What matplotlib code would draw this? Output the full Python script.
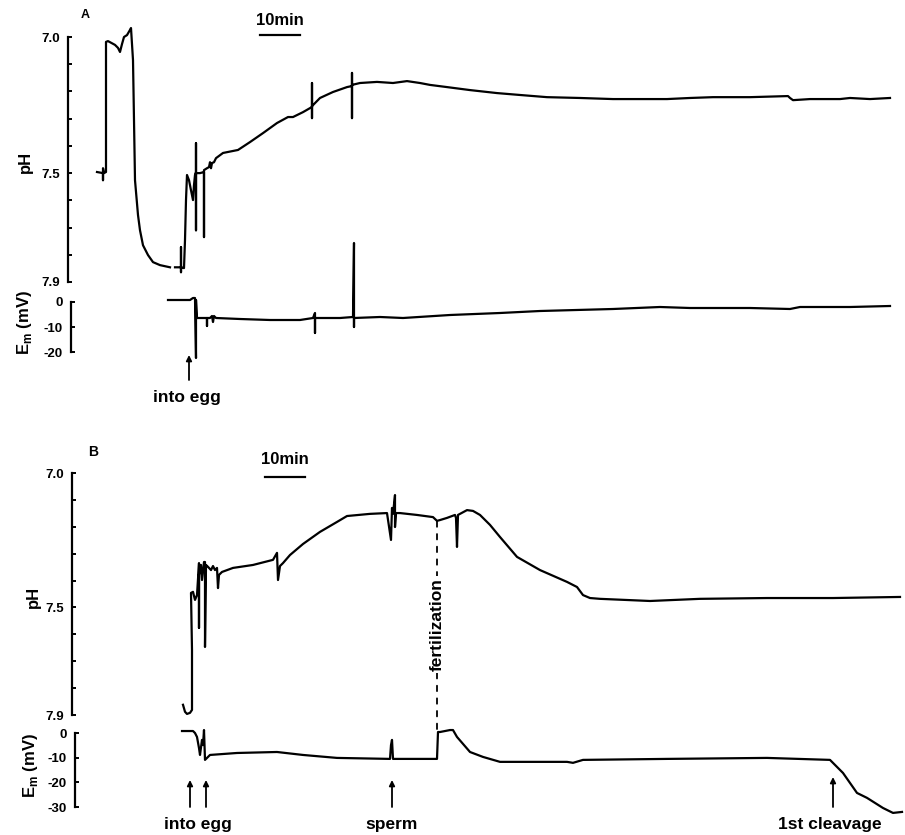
import numpy as np
import matplotlib
matplotlib.use("Agg")
import matplotlib.pyplot as plt
from matplotlib.patches import ConnectionPatch

plt.rcParams['font.family'] = ['Liberation Sans', 'DejaVu Sans']
plt.rcParams['font.weight'] = 'bold'
plt.rcParams['axes.unicode_minus'] = False
plt.rcParams['mathtext.fontset'] = 'custom'
plt.rcParams['mathtext.rm'] = 'Liberation Sans:bold'
plt.rcParams['mathtext.bf'] = 'Liberation Sans:bold'

# ------------------------------------------------------------
# Dati (tempo in min, pH, Em in mV)
# ------------------------------------------------------------

# Pannello A - pH intracellulare
a_ph_t = [7.25, 8.75, 8.75, 8.75, 9.0, 9.5, 9.5, 10.0, 11.75, 12.5, 13.0, 13.5, 14.0,
          14.75, 15.5, 15.75, 16.25, 16.5, 16.75, 17.5, 18.0, 18.75, 20.0, 21.25, 23.0,
          25.5, np.nan,
          26.75, 28.25, 28.25, 28.25, 28.25, 29.0, 29.25, 29.5, 29.75, 30.25, 30.75, 31.25,
          31.5, 31.75, 32.0, 32.0, 32.0, 32.0, 33.0, 34.0, 34.0, 34.0, 34.75, 35.25, 35.5,
          35.75, 36.0, 36.5, 37.0, 38.75, 42.5, 45.5, 48.75, 52.25, 55.0, 56.25, 58.75,
          61.0, 61.0, 61.0, 61.0, 63.0, 66.25, 69.75, 71.0, 71.0, 71.0, 71.0, 73.0, 77.25,
          81.25, 84.75, 88.0, 90.5, 94.75, 100.5, 107.25, 113.0, 119.75, 128.0, 136.25,
          143.0, 149.75, 155.5, 161.25, 170.5, 180.0, 180.5, 181.25, 185.5, 193.0, 195.5,
          200.5, 205.5]
a_ph_v = [7.496, 7.500, 7.526, 7.482, 7.500, 7.496, 7.018, 7.015, 7.029, 7.040, 7.055,
          7.026, 7.000, 6.993, 6.974, 6.967, 7.085, 7.305, 7.526, 7.654, 7.710, 7.765,
          7.801, 7.827, 7.838, 7.846, np.nan,
          7.846, 7.846, 7.772, 7.864, 7.846, 7.849, 7.746, 7.599, 7.507, 7.526, 7.563,
          7.599, 7.544, 7.507, 7.496, 7.390, 7.710, 7.500, 7.500, 7.496, 7.735, 7.489,
          7.482, 7.478, 7.460, 7.482, 7.463, 7.460, 7.445, 7.426, 7.415, 7.386, 7.353,
          7.316, 7.294, 7.294, 7.276, 7.257, 7.169, 7.298, 7.254, 7.224, 7.202, 7.184,
          7.180, 7.132, 7.298, 7.176, 7.169, 7.165, 7.169, 7.162, 7.169, 7.176, 7.184,
          7.195, 7.206, 7.213, 7.221, 7.224, 7.228, 7.228, 7.228, 7.224, 7.221, 7.221,
          7.217, 7.224, 7.232, 7.228, 7.228, 7.224, 7.228, 7.224]

# Pannello A - potenziale di membrana
a_em_t = [25.0, 30.5, 31.25, 31.75, 32.0, 32.0, 32.25, 34.25, 34.75, 34.75, 34.75, 35.5,
          36.0, 36.25, 36.5, 37.0, 43.0, 50.5, 58.0, 61.25, 61.75, 61.75, 61.75, 68.0,
          71.25, 71.5, 71.5, 71.5, 78.0, 83.75, 95.5, 108.0, 118.0, 136.25, 148.0,
          155.5, 170.5, 180.5, 183.0, 195.5, 205.5]
a_em_v = [0.8, 0.8, 1.6, 1.6, -22.4, 0.8, -6.4, -6.4, -6.4, -9.6, -6.4, -6.4, -5.6, -8.0,
          -5.6, -6.4, -6.8, -7.2, -7.2, -6.4, -4.4, -12.4, -6.4, -6.4, -6.0, 23.6, -10.0,
          -6.4, -6.0, -6.4, -5.2, -4.4, -3.6, -2.8, -2.0, -2.4, -2.4, -2.8, -2.0, -2.0, -1.6]

# Pannello B - pH intracellulare
b_ph_t = [27.75, 28.25, 28.75, 29.5, 30.0, 30.0, 29.75, 30.25, 30.75, 31.25, 31.75, 31.75,
          31.75, 32.25, 32.5, 33.0, 33.25, 33.25, 33.5, 34.0, 34.75, 35.25, 35.75, 36.25,
          36.5, 36.75, 37.5, 40.25, 45.25, 50.25, 51.25, 51.5, 52.0, 52.75, 54.5, 57.75,
          62.0, 66.25, 68.75, 74.5, 78.75, 79.75, 80.0, 80.25, 80.75, 80.75, 81.0, 82.0,
          86.25, 90.25, 91.25, 92.0, 93.75, 95.75, 96.0, 96.25, 96.5, 98.75, 100.25, 102.0,
          104.5, 107.0, 111.25, 117.0, 123.75, 126.25, 127.75, 129.5, 132.0, 144.5, 157.0,
          173.75, 190.25, 207.0]
b_ph_v = [7.862, 7.888, 7.896, 7.892, 7.881, 7.658, 7.446, 7.442, 7.472, 7.454, 7.335,
          7.576, 7.379, 7.342, 7.398, 7.331, 7.331, 7.647, 7.342, 7.349, 7.361, 7.346,
          7.361, 7.353, 7.428, 7.379, 7.368, 7.353, 7.342, 7.323, 7.297, 7.398, 7.346,
          7.335, 7.305, 7.264, 7.219, 7.182, 7.160, 7.152, 7.149, 7.249, 7.130, 7.152,
          7.082, 7.201, 7.149, 7.149, 7.156, 7.164, 7.178, 7.175, 7.167, 7.156, 7.167,
          7.275, 7.156, 7.138, 7.141, 7.156, 7.193, 7.238, 7.312, 7.361, 7.405, 7.424,
          7.454, 7.465, 7.468, 7.476, 7.468, 7.465, 7.465, 7.461]

# Pannello B - potenziale di membrana
b_em_t = [27.5, 30.25, 30.75, 31.25, 31.75, 32.0, 32.5, 32.75, 33.0, 33.25, 34.5, 41.25,
          51.25, 57.75, 66.25, 79.5, 79.75, 80.0, 80.25, 90.25, 91.25, 91.5, 92.0, 94.5,
          95.25, 96.25, 99.5, 102.75, 107.0, 123.75, 125.25, 127.75, 148.75, 173.75, 189.5,
          192.75, 196.25, 198.75, 202.75, 205.25, 207.5]
b_em_v = [0.8, 0.8, 0.0, -1.6, -6.1, -8.9, -2.8, -4.9, 1.2, -10.9, -8.9, -8.1, -7.7, -8.9,
          -10.1, -10.5, -4.9, -2.8, -10.5, -10.5, -10.5, 0.4, 0.4, 1.2, 1.2, -1.6, -7.7,
          -9.7, -11.7, -11.7, -12.1, -10.9, -10.5, -10.1, -10.9, -16.2, -24.3, -26.3,
          -30.4, -32.4, -32.0]

# Eventi
a_event_t = [30.25]
a_event_label_t = 29.75
b_event_t = [29.5, 33.5, 80.0, 190.25]
b_event_labels = [("into egg", 31.5), ("sperm", 80.0), ("1st cleavage", 189.5)]
fert_t = 91.25
fert_ph = 7.18
fert_em = 0.4

scale_min = 10
a_scale_t0 = 48.0
b_scale_t0 = 48.25

ph_ticks = [7.0, 7.1, 7.2, 7.3, 7.4, 7.5, 7.6, 7.7, 7.8, 7.9]
ph_labels = ["7.0", "", "", "", "", "7.5", "", "", "", "7.9"]
a_em_ticks = [0, -10, -20]
b_em_ticks = [0, -10, -20, -30]

# ------------------------------------------------------------
# Layout (pixel della figura 905x835)
# ------------------------------------------------------------
W, H = 905, 835
PX_PER_MIN = 4.0
fig = plt.figure(figsize=(W / 100, H / 100), dpi=100)


def make_axes(left, top, bottom, t_origin):
    ax = fig.add_axes([left / W, 1 - bottom / H, (W - left) / W, (bottom - top) / H])
    ax.set_xlim((left - t_origin) / PX_PER_MIN, (W - t_origin) / PX_PER_MIN)
    for s in ("top", "right", "bottom"):
        ax.spines[s].set_visible(False)
    ax.spines["left"].set_linewidth(1.6)
    ax.set_xticks([])
    ax.tick_params(axis="y", direction="in", length=3.2, width=1.4, pad=6,
                   labelsize=9.5)
    ax.patch.set_alpha(0)
    return ax


def ftext(px, py, s, **kw):
    return fig.text(px / W, 1 - py / H, s, **kw)


line_kw = dict(color="black", lw=1.6, clip_on=False, solid_joinstyle="round")
LBL = 12.5

# --- Pannello A ---
ax_a_ph = make_axes(68, 37, 282, 68)
ax_a_ph.set_ylim(7.9, 7.0)
ax_a_ph.set_yticks(ph_ticks)
ax_a_ph.set_yticklabels(ph_labels)
ax_a_ph.plot(a_ph_t, a_ph_v, **line_kw)
ax_a_ph.plot([a_scale_t0, a_scale_t0 + scale_min], [6.993, 6.993], color="black",
             lw=1.6, clip_on=False)
ax_a_ph.text(a_scale_t0 + scale_min / 2, 6.94, "10min", ha="center", va="center",
             fontsize=12)

ax_a_em = make_axes(71, 302, 352, 68)
ax_a_em.set_ylim(-20, 0)
ax_a_em.set_yticks(a_em_ticks)
ax_a_em.plot(a_em_t, a_em_v, **line_kw)
for t in a_event_t:
    ax_a_em.annotate("", xy=(t, -0.06), xytext=(t, -0.56),
                     xycoords=("data", "axes fraction"),
                     textcoords=("data", "axes fraction"),
                     arrowprops=dict(arrowstyle="-|>", lw=1.3, color="black",
                                     mutation_scale=8, shrinkA=0, shrinkB=0))
ax_a_em.text(a_event_label_t, -0.9, "into egg", ha="center", va="center", fontsize=LBL,
             transform=ax_a_em.get_xaxis_transform())

# --- Pannello B ---
ax_b_ph = make_axes(72, 473, 715, 72)
ax_b_ph.set_ylim(7.9, 7.0)
ax_b_ph.set_yticks(ph_ticks)
ax_b_ph.set_yticklabels(ph_labels)
ax_b_ph.plot(b_ph_t, b_ph_v, **line_kw)
ax_b_ph.plot([b_scale_t0, b_scale_t0 + scale_min], [7.015, 7.015], color="black",
             lw=1.6, clip_on=False)
ax_b_ph.text(b_scale_t0 + scale_min / 2, 6.948, "10min", ha="center", va="center",
             fontsize=12)

ax_b_em = make_axes(75, 733, 807, 72)
ax_b_em.set_ylim(-30, 0)
ax_b_em.set_yticks(b_em_ticks)
ax_b_em.plot(b_em_t, b_em_v, **line_kw)
for t in b_event_t:
    head = 0.405 if t > 150 else 0.365
    ax_b_em.annotate("", xy=(t, head), xytext=(t, 0.0),
                     xycoords=("data", "axes fraction"),
                     textcoords=("data", "axes fraction"),
                     arrowprops=dict(arrowstyle="-|>", lw=1.3, color="black",
                                     mutation_scale=8, shrinkA=0, shrinkB=0))
for lab, t in b_event_labels:
    ax_b_em.text(t, -0.24, lab, ha="center", va="center", fontsize=LBL,
                 transform=ax_b_em.get_xaxis_transform())

# linea tratteggiata della fecondazione (sotto l'etichetta)
con = ConnectionPatch(xyA=(fert_t, fert_ph), coordsA=ax_b_ph.transData,
                      xyB=(fert_t, fert_em), coordsB=ax_b_em.transData,
                      color="black", lw=1.3, linestyle=(0, (3, 4)), zorder=2)
fig.add_artist(con)
fx, fy = fig.transFigure.inverted().transform(
    ax_b_ph.transData.transform((fert_t, 7.565)))
fig.text(fx, fy, "fertilization", rotation=90, ha="center", va="center",
         fontsize=LBL, bbox=dict(fc="white", ec="none", pad=1.5), zorder=10)

# etichette assi e lettere dei pannelli
ftext(25, 162, "pH", rotation=90, ha="center", va="center", fontsize=12)
ftext(24, 323, r"E$_\mathrm{m}$ (mV)", rotation=90, ha="center", va="center",
      fontsize=12)
ftext(33, 597, "pH", rotation=90, ha="center", va="center", fontsize=12)
ftext(31, 766, r"E$_\mathrm{m}$ (mV)", rotation=90, ha="center", va="center",
      fontsize=12)
ftext(85, 15, "A", ha="center", va="center", fontsize=9)
ftext(93, 452, "B", ha="center", va="center", fontsize=10)

fig.savefig("out.png", dpi=100)
